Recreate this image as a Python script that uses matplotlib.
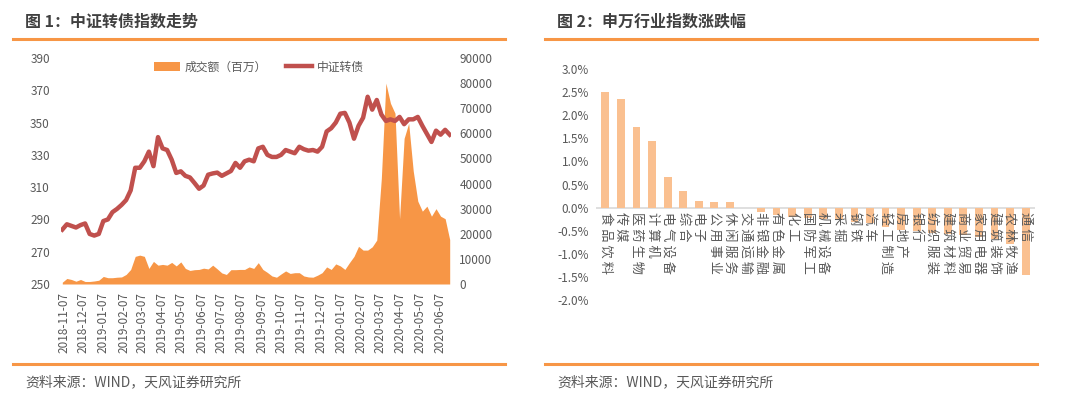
import numpy as np
import pandas as pd
import matplotlib
matplotlib.use('Agg')
import matplotlib.pyplot as plt
import matplotlib.dates as mdates
from matplotlib.ticker import FuncFormatter

plt.rcParams['font.family'] = ['Noto Sans CJK SC', 'DejaVu Sans']

# ---- figure 1: weekly samples, 2018-11-05 .. 2020-06-22
week_dates = pd.date_range('2018-11-05', periods=86, freq='7D')
cb_index = [
    283.7, 287, 286, 285, 286.5, 287.5, 281, 280, 281, 289,
    290, 294.5, 296.5, 299, 302, 308, 322, 322, 326, 332,
    323, 341, 334, 333, 327, 318.8, 319.8, 317, 316, 312.6,
    309, 311, 317.7, 318.5, 319, 317, 318.5, 320, 325, 322,
    326, 327, 326, 334, 335, 330, 328.7, 328.7, 330, 333,
    332, 331, 335, 333.5, 332.6, 333, 332, 335, 344.5, 346.5,
    350, 355.5, 356, 350, 340, 348, 353, 366, 358, 364,
    355, 351, 352, 351, 353.5, 349, 352, 352, 353.5, 348,
    343, 338, 345, 342.5, 345.5, 342.5,
]
turnover = [
    700, 2200, 1800, 1100, 1800, 1000, 1000, 1200, 1500, 3000,
    2500, 2500, 2700, 2800, 3800, 5800, 11000, 11500, 11000, 6200,
    9000, 7500, 7800, 7500, 8600, 7200, 8800, 6200, 5400, 5700,
    5800, 6300, 6000, 7500, 6000, 4400, 3800, 5700, 5700, 5800,
    5800, 6800, 6200, 8500, 5800, 4600, 3200, 2700, 4000, 5200,
    4200, 4500, 4500, 3200, 2800, 2700, 3500, 4500, 6800, 5800,
    8000, 7200, 5800, 8500, 11000, 15000, 13500, 13500, 14800, 17500,
    42000, 80000, 72000, 68000, 26000, 58000, 64000, 45000, 33000, 29000,
    31000, 27000, 30000, 27000, 26000, 17700,
]
tick_dates = pd.date_range('2018-11-01', '2020-06-01', freq='MS') + pd.Timedelta(days=6)

# ---- figure 2
industries = ['食品饮料', '传媒', '医药生物', '计算机', '电气设备', '综合', '电子',
              '公用事业', '休闲服务', '交通运输', '非银金融', '有色金属', '化工',
              '国防军工', '机械设备', '采掘', '钢铁', '汽车', '轻工制造', '房地产',
              '银行', '纺织服装', '建筑材料', '商业贸易', '家用电器', '建筑装饰',
              '农林牧渔', '通信']
pct_change = [2.50, 2.35, 1.74, 1.45, 0.67, 0.37, 0.14, 0.13, 0.13, 0.0,
              -0.10, -0.15, -0.21, -0.23, -0.24, -0.25, -0.31, -0.33, -0.42, -0.48,
              -0.51, -0.55, -0.57, -0.60, -0.64, -0.67, -0.78, -1.46]

W, H = 1080, 403
ORANGE = '#F79646'
RED = '#C0504D'
GRAY = '#595959'
TITLE = '#404040'

fig = plt.figure(figsize=(W / 100, H / 100), dpi=100)

def px_axes(x0, y0, x1, y1):
    return fig.add_axes([x0 / W, 1 - y1 / H, (x1 - x0) / W, (y1 - y0) / H])

def frame(x0, x1, title):
    fig.text((x0 + 12) / W, 1 - 22 / H, title, fontsize=11.5, fontweight='bold',
             color=TITLE, va='center', ha='left')
    for yy in (39, 364):
        fig.add_artist(plt.Line2D([x0 / W, x1 / W], [1 - yy / H, 1 - yy / H],
                                  color=ORANGE, lw=2.2))
    fig.text((x0 + 12) / W, 1 - 382 / H, '资料来源：WIND，天风证券研究所',
             fontsize=10, color=GRAY, va='center', ha='left')

frame(13, 505, '图 1：中证转债指数走势')
frame(545, 1037, '图 2：申万行业指数涨跌幅')

# left chart
ax_v = px_axes(61, 58, 451, 284)
ax_l = ax_v.twinx()
ax_v.yaxis.tick_right()
ax_l.yaxis.tick_left()
ax_v.fill_between(week_dates, turnover, 0, color=ORANGE, lw=0, label='成交额（百万）')
ax_l.plot(week_dates, cb_index, color=RED, lw=3.2, label='中证转债')
ax_v.set_ylim(0, 90000)
ax_v.set_yticks(np.arange(0, 90001, 10000))
ax_l.set_ylim(250, 390)
ax_l.set_yticks(np.arange(250, 391, 20))
ax_v.set_xlim(week_dates[0] - pd.Timedelta(days=2), week_dates[-1] + pd.Timedelta(days=2))
ax_v.set_xticks(tick_dates)
ax_v.xaxis.set_major_formatter(mdates.DateFormatter('%Y-%m-%d'))
for lab in ax_v.get_xticklabels():
    lab.set_rotation(90)
for a in (ax_v, ax_l):
    for s in a.spines.values():
        s.set_visible(False)
    a.tick_params(length=0, labelsize=8.5, colors=GRAY)
ax_v.tick_params(axis='x', labelsize=8.5, pad=6)
ax_v.tick_params(axis='y', pad=6)
ax_l.tick_params(axis='y', pad=8)
h1, l1 = ax_v.get_legend_handles_labels()
h2, l2 = ax_l.get_legend_handles_labels()
fig.legend(h1 + h2, l1 + l2, loc='center', bbox_to_anchor=(259 / W, 1 - 67 / H),
           ncol=2, frameon=False, fontsize=8.5, labelcolor=GRAY,
           handlelength=2.2, handleheight=0.7, columnspacing=1.6, handletextpad=0.4)

# right chart
ax_b = px_axes(596, 69, 1035, 300)
x = np.arange(len(industries))
ax_b.bar(x, pct_change, width=0.5, color='#FAC090')
ax_b.axhline(0, color='#D9D9D9', lw=1.2, zorder=0)
ax_b.set_ylim(-2.0, 3.0)
ax_b.set_yticks(np.arange(-2.0, 3.01, 0.5))
ax_b.yaxis.set_major_formatter(FuncFormatter(lambda v, p: f'{v:.1f}%'))
ax_b.set_xlim(-0.6, len(industries) - 0.4)
ax_b.set_xticks([])
for s in ax_b.spines.values():
    s.set_visible(False)
ax_b.tick_params(length=0, labelsize=8.5, colors=GRAY, pad=5)
for i, name in enumerate(industries):
    ax_b.text(i, -0.1, ' '.join(name), rotation=-90, ha='center', va='top',
              fontsize=9.5, color=GRAY)

fig.savefig('out.png', dpi=100)
